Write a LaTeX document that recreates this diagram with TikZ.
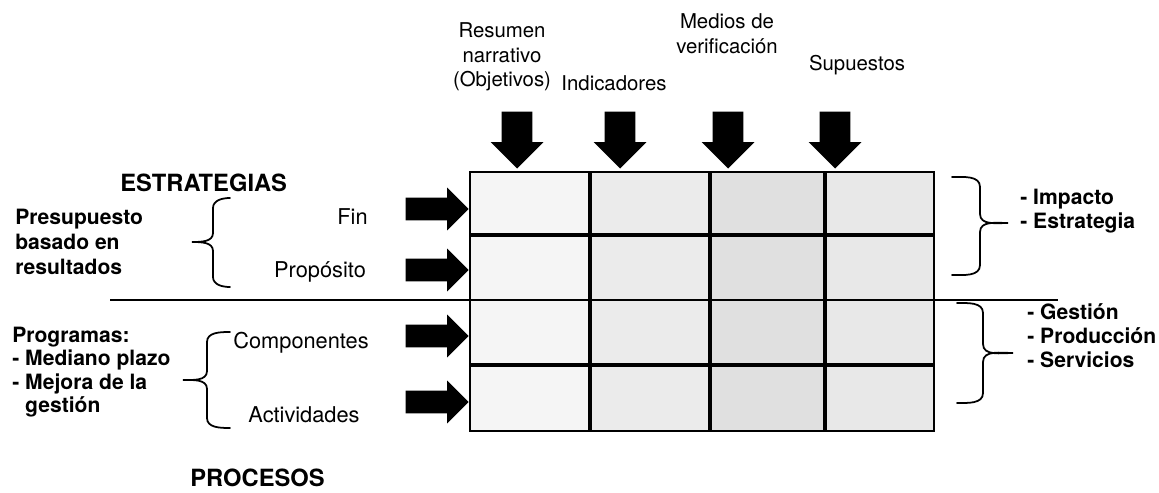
\documentclass[tikz,border=0pt]{standalone}
\usepackage{fontspec}
\setmainfont{TeX Gyre Heros}
\usetikzlibrary{shapes.arrows}

\tikzset{
  lbl/.style={font=\fontsize{11.6}{14}\selectfont, inner sep=0pt, align=center},
  row/.style={font=\fontsize{12.4}{14}\selectfont, inner sep=0pt},
  side/.style={font=\fontsize{12}{14}\selectfont\bfseries, inner sep=0pt, align=left},
  head/.style={font=\fontsize{13.5}{16}\selectfont\bfseries, inner sep=0pt},
  downarrow/.style={single arrow, fill=black, draw=none, rotate=-90, anchor=tip,
    minimum height=1.14cm, minimum width=1.04cm, inner sep=0.3cm,
    single arrow head extend=0.22cm},
  rightarrow/.style={single arrow, fill=black, draw=none, anchor=tip,
    minimum height=1.26cm, minimum width=0.84cm, inner sep=0.22cm,
    single arrow head extend=0.2cm},
  curly/.style={line width=1pt, line cap=round},
}

\begin{document}
\begin{tikzpicture}[x=0.02cm, y=-0.02cm]
  \useasboundingbox (0,0) rectangle (1159,493);

  % matrix cells
  \foreach \ya/\yb in {172/235, 235/300, 300/365, 365/431}
    \foreach \xa/\xb/\shade in {470/590/4, 590/710/8, 710/825/12, 825/934/9}
      \fill[black!\shade] (\xa,\ya) rectangle (\xb,\yb);

  \coordinate (nw) at (470,172);
  \coordinate (se) at (934,431);
  \draw[line width=1pt] (nw) rectangle (se);
  \foreach \x in {590, 710, 825}
    \draw[line width=2.8pt] (\x,172) -- (\x,431);
  \foreach \y in {235, 365}
    \draw[line width=2.8pt] (470,\y) -- (934,\y);

  % separator
  \coordinate (sepl) at (110,300);
  \coordinate (sepr) at (1058,300);
  \draw[line width=1pt] (sepl) -- (sepr);

  % column headings
  \node[lbl] (resumen) at (502,57) {Resumen\\narrativo\\(Objetivos)};
  \node[lbl] (indic) at (614,83) {Indicadores};
  \node[lbl] (medios) at (727,34) {Medios de\\verificación};
  \node[lbl] (supuestos) at (857,65) {Supuestos};

  \foreach \n/\x in {1/517, 2/620, 3/728, 4/835}
    \node[downarrow] (top\n) at (\x,169) {};

  % row headings
  \node[row, anchor=east] (fin) at (368,217) {Fin};
  \node[row] (proposito) at (320,272) {Propósito};
  \node[row] (componentes) at (301,343) {Componentes};
  \node[row] (actividades) at (304,415) {Actividades};

  \foreach \n/\y in {1/209, 2/270, 3/336, 4/402}
    \node[rightarrow] (left\n) at (469,\y) {};

  % left side
  \node[head, anchor=west] (estrategias) at (120,183) {ESTRATEGIAS};
  \node[head, anchor=west] (procesos) at (190,478) {PROCESOS};
  \node[side, anchor=west] (presupuesto) at (15,242) {Presupuesto\\basado en\\resultados};
  \node[side, anchor=west, font=\fontsize{12}{13.4}\selectfont\bfseries] (programas) at (12,372)
    {Programas:\\- Mediano plazo\\- Mejora de la\\\hphantom{- }gestión};

  \foreach \xo/\xv/\xt/\ya/\ym/\yb in {230/213/192/198/242/287, 230/207/183/332/380/428}
    \draw[curly] (\xo,\ya) to[out=180,in=90] (\xv,\ya+10) -- (\xv,\ym-9)
      to[out=-90,in=0] (\xt,\ym) to[out=0,in=90] (\xv,\ym+9) -- (\xv,\yb-10)
      to[out=-90,in=180] (\xo,\yb);

  % right side
  \node[side, anchor=west] (impacto) at (1020,211) {- Impacto\\- Estrategia};
  \node[side, anchor=west, font=\fontsize{12}{13.6}\selectfont\bfseries] (gestion) at (1027,336)
    {- Gestión\\- Producción\\- Servicios};

  \foreach \xo/\xv/\xt/\ya/\ym/\yb in {952/980/1008/177/223/275, 957/983/1013/303/353/403}
    \draw[curly] (\xo,\ya) to[out=0,in=90] (\xv,\ya+10) -- (\xv,\ym-9)
      to[out=-90,in=180] (\xt,\ym) to[out=180,in=90] (\xv,\ym+9) -- (\xv,\yb-10)
      to[out=-90,in=0] (\xo,\yb);
\end{tikzpicture}
\end{document}
